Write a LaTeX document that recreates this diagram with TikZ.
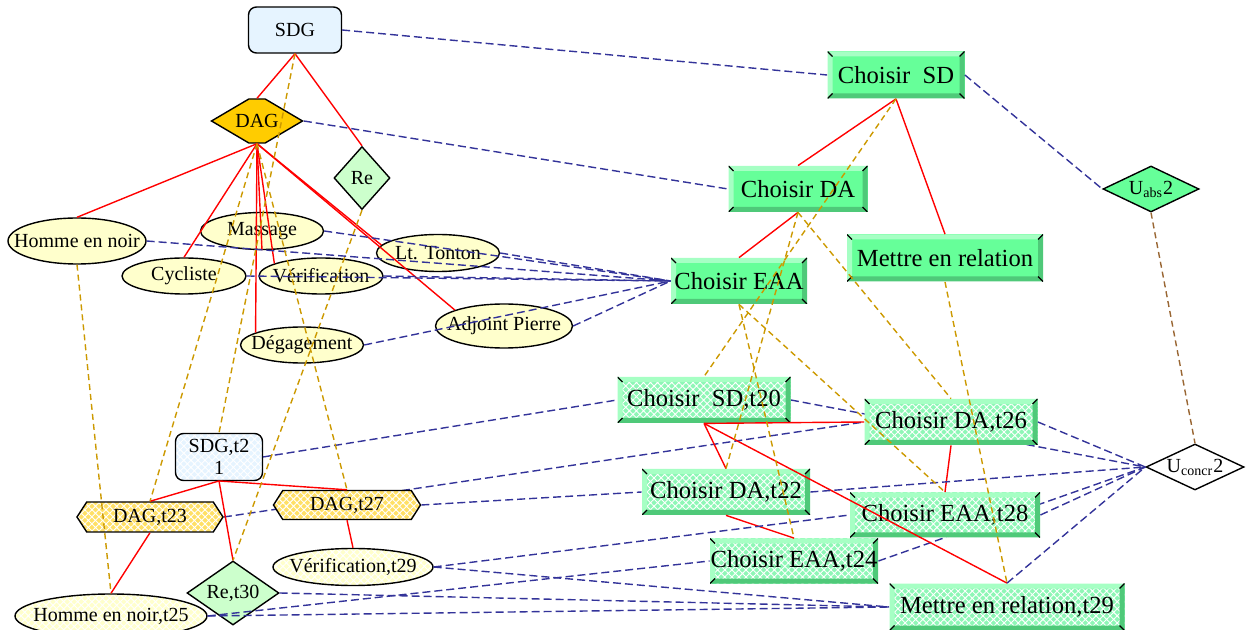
\documentclass[tikz,border=0pt]{standalone}
\usepackage{fontspec}
\setmainfont{Liberation Serif}
\usetikzlibrary{shapes.geometric,shapes.symbols,patterns.meta,backgrounds}
\definecolor{sdgfill}{HTML}{E6F4FF}
\definecolor{dagfill}{HTML}{FFCC00}
\definecolor{refill}{HTML}{CCFFCC}
\definecolor{ellfill}{HTML}{FFFFCC}
\definecolor{taskfill}{HTML}{66FF99}
\definecolor{tasklt}{HTML}{A6FFC4}
\definecolor{taskdk}{HTML}{4FC979}
\definecolor{concfill}{HTML}{8EF7B6}
\definecolor{hierline}{HTML}{FF0000}
\definecolor{mapline}{HTML}{333399}
\definecolor{corrline}{HTML}{CC9900}
\definecolor{uline}{HTML}{996633}
\newcommand{\zbox}[1]{\makebox[0pt]{#1}}

\begin{document}
\begin{tikzpicture}[x=0.5pt,y=-0.5pt,
  small/.style={font=\fontsize{10}{11}\selectfont},
  big/.style={font=\fontsize{12.3}{14}\selectfont},
  hatch/.style={preaction={fill=#1},pattern={Hatch[angle=45,distance=2.5pt,line width=0.45pt]},pattern color=white},
  sdgbox/.style={small,draw=black,line width=0.7pt,rounded corners=4pt,inner sep=0pt,fill=sdgfill,align=center},
  daghex/.style={small,draw=black,line width=0.7pt,signal,signal to=east and west,inner sep=0pt,fill=dagfill},
  rediam/.style={small,draw=black,line width=0.7pt,diamond,inner sep=0pt,fill=refill},
  udiam/.style={small,draw=black,line width=0.7pt,diamond,inner sep=0pt},
  actell/.style={small,draw=black,line width=0.7pt,ellipse,inner sep=0pt,fill=ellfill},
  bevel/.style={path picture={
    \path (path picture bounding box.north west) coordinate (q1) (path picture bounding box.north east) coordinate (q2)
          (path picture bounding box.south east) coordinate (q3) (path picture bounding box.south west) coordinate (q4);
    \fill[tasklt] (q1) -- (q2) -- ([shift={(-2.5pt,-2.5pt)}]q2) -- ([shift={(2.5pt,-2.5pt)}]q1) -- cycle;
    \fill[tasklt] (q1) -- (q4) -- ([shift={(2.5pt,2.5pt)}]q4) -- ([shift={(2.5pt,-2.5pt)}]q1) -- cycle;
    \fill[taskdk] (q3) -- (q4) -- ([shift={(2.5pt,2.5pt)}]q4) -- ([shift={(-2.5pt,2.5pt)}]q3) -- cycle;
    \fill[taskdk] (q3) -- (q2) -- ([shift={(-2.5pt,-2.5pt)}]q2) -- ([shift={(-2.5pt,2.5pt)}]q3) -- cycle;
    \draw[line width=0.6pt] (q1) -- ([shift={(2.5pt,-2.5pt)}]q1) (q2) -- ([shift={(-2.5pt,-2.5pt)}]q2)
          (q3) -- ([shift={(-2.5pt,2.5pt)}]q3) (q4) -- ([shift={(2.5pt,2.5pt)}]q4);}},
  task/.style={big,inner sep=0pt,fill=taskfill,bevel},
  ctask/.style={big,inner sep=0pt,hatch=concfill,bevel},
  hier/.style={draw=hierline,line width=0.7pt},
  map/.style={draw=mapline,line width=0.7pt,dash pattern=on 4pt off 2pt},
  corr/.style={draw=corrline,line width=0.7pt,dash pattern=on 3pt off 2pt},
  ulink/.style={draw=uline,line width=0.7pt,dash pattern=on 3pt off 2pt}]

\useasboundingbox (0,0) rectangle (1248,630);

\node[sdgbox,minimum width=46.5pt,minimum height=23pt]                 (sdg) at (295,30)  {SDG};
\node[daghex,signal pointer angle=61,minimum width=45.5pt,minimum height=22pt] (dag) at (257,121) {\zbox{DAG}};
\node[rediam,minimum width=28pt,minimum height=31.5pt]                 (re)  at (362,178) {\zbox{Re}};
\node[actell,minimum width=69pt,minimum height=23pt]                   (hen) at (77,241)  {\zbox{Homme en noir}};
\node[actell,minimum width=61.5pt,minimum height=18.5pt]               (mas) at (262,231) {\zbox{Massage}};
\node[actell,minimum width=62pt,minimum height=18pt]                   (cyc) at (184,276) {\zbox{Cycliste}};
\node[actell,minimum width=62pt,minimum height=18pt]                   (ver) at (321,276) {\zbox{Vérification}};
\node[actell,minimum width=61.5pt,minimum height=18.5pt]               (ton) at (438,253) {\zbox{Lt. Tonton}};
\node[actell,minimum width=61.5pt,minimum height=18pt]                 (deg) at (302,345) {\zbox{Dégagement}};
\node[actell,minimum width=68.5pt,minimum height=22pt]                 (adj) at (504,326) {\zbox{Adjoint Pierre}};

\node[sdgbox,hatch=sdgfill,minimum width=43.5pt,minimum height=23.5pt] (sdg21) at (219,457) {SDG,t2\\1};
\node[daghex,hatch=dagfill!60!white,signal pointer angle=114,minimum width=73pt,minimum height=15pt]   (dag23) at (150,517) {\zbox{DAG,t23}};
\node[daghex,hatch=dagfill!60!white,signal pointer angle=115,minimum width=73.5pt,minimum height=14.5pt] (dag27) at (347,505) {\zbox{DAG,t27}};
\node[actell,hatch=ellfill,minimum width=80pt,minimum height=18.5pt]   (ver29) at (353,567) {\zbox{Vérification,t29}};
\node[rediam,minimum width=46pt,minimum height=32pt]                   (re30)  at (233,593) {\zbox{Re,t30}};
\node[actell,hatch=ellfill,minimum width=96pt,minimum height=22pt]     (hen25) at (111,616) {\zbox{Homme en noir,t25}};

\node[task,minimum width=68.5pt,minimum height=23.5pt]  (csd) at (896,75)  {Choisir\ \ SD};
\node[task,minimum width=69.5pt,minimum height=23pt]    (cda) at (798,189) {Choisir DA};
\node[task,minimum width=98pt,minimum height=23.5pt]    (mer) at (945,258) {Mettre en relation};
\node[task,minimum width=68pt,minimum height=23pt]      (cea) at (739,281) {Choisir EAA};
\node[udiam,fill=taskfill,minimum width=48pt,minimum height=23pt] (uabs) at (1151,189) {\zbox{U\textsubscript{abs}2}};

\node[ctask,minimum width=86.5pt,minimum height=23pt]   (csd20) at (704,400)  {Choisir\ \ SD,t20};
\node[ctask,minimum width=86.5pt,minimum height=23pt]   (cda26) at (951,422)  {Choisir DA,t26};
\node[ctask,minimum width=84pt,minimum height=23pt]     (cda22) at (726,492)  {Choisir DA,t22};
\node[ctask,minimum width=95pt,minimum height=22.5pt]   (cea28) at (945,515)  {Choisir EAA,t28};
\node[ctask,minimum width=84pt,minimum height=22.5pt]   (cea24) at (794,561)  {Choisir EAA,t24};
\node[ctask,minimum width=117.5pt,minimum height=23.5pt] (mer29) at (1007,607) {Mettre en relation,t29};
\node[udiam,fill=white,minimum width=49pt,minimum height=23pt] (ucon) at (1195,467) {\zbox{U\textsubscript{concr}2}};

\draw[hier] (sdg.south) -- (dag.north);
\draw[hier] (sdg.south) -- (re.north);
\draw[hier] (dag.south) -- (hen.north);
\draw[hier] (dag.south) -- (cyc.north);
\draw[hier] (dag.south) -- (mas.south);
\draw[hier] (dag.south) -- (deg.165);
\draw[hier] (dag.south) -- (ver.165);
\draw[hier] (dag.south) -- (ton.172);
\draw[hier] (dag.south) -- (adj.162);
\draw[hier] (sdg21.south) -- (dag23.north);
\draw[hier] (sdg21.south) -- (dag27.north);
\draw[hier] (sdg21.south) -- (re30.north);
\draw[hier] (dag23.south) -- (hen25.north);
\draw[hier] (dag27.south) -- (ver29.north);
\draw[hier] (csd.south) -- (cda.north);
\draw[hier] (csd.south) -- (mer.north);
\draw[hier] (cda.south) -- (cea.north);
\draw[hier] (csd20.south) -- (cda26.west);
\draw[hier] (csd20.south) -- (cda22.north);
\draw[hier] (csd20.south) -- (mer29.north);
\draw[hier] (cda26.south) -- (cea28.north);
\draw[hier] (cda22.south) -- (cea24.north);

\draw[map] (sdg.east) -- (csd.west);
\draw[map] (dag.east) -- (cda.west);
\draw[map] (csd.east) -- (uabs.west);
\draw[map] (hen.east) -- (cea.west);
\draw[map] (mas.east) -- (cea.west);
\draw[map] (cyc.east) -- (cea.west);
\draw[map] (ver.east) -- (cea.west);
\draw[map] (ton.east) -- (cea.west);
\draw[map] (deg.east) -- (cea.west);
\draw[map] (adj.east) -- (cea.west);
\draw[map] (sdg21.east) -- (csd20.west);
\draw[map] (dag27.east) -- (cda22.west);
\draw[map] (ver29.east) -- (cea28.west);
\draw[map] (ver29.east) -- (mer29.west);
\draw[map] (hen25.east) -- (cea24.west);
\draw[map] (hen25.east) -- (mer29.west);
\draw[map] (re30.east) -- (mer29.west);
\draw[map] (cda26.east) -- (ucon.west);
\draw[map] (cda22.east) -- (ucon.west);
\draw[map] (cea28.east) -- (ucon.west);
\draw[map] (mer29.north) -- (ucon.west);
\begin{pgfonlayer}{background}
\draw[map] (dag23.east) -- (cda26.west);
\draw[map] (csd20.east) -- (ucon.west);
\draw[map] (cea24.east) -- (ucon.west);
\end{pgfonlayer}

\draw[corr] (sdg.south) -- (sdg21.north);
\draw[corr] (dag.south) -- (dag23.north);
\draw[corr] (dag.south) -- (dag27.north);
\draw[corr] (re.south) -- (re30.north);
\draw[corr] (hen.south) -- (hen25.north);
\draw[corr] (csd.south) -- (csd20.north);
\draw[corr] (cda.south) -- (cda22.north);
\draw[corr] (cda.south) -- (cda26.north);
\draw[corr] (cea.south) -- (cea24.north);
\draw[corr] (cea.south) -- (cea28.north);
\draw[corr] (mer.south) -- (mer29.north);

\draw[ulink] (uabs.south) -- (ucon.north);

\end{tikzpicture}
\end{document}
